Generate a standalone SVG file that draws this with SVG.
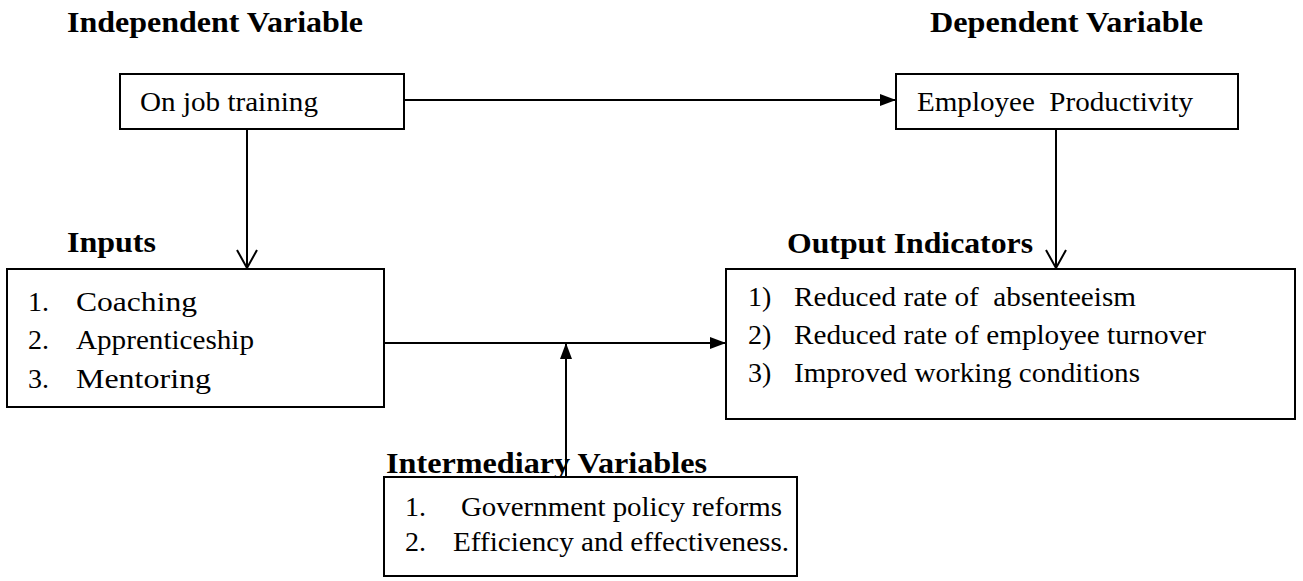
<svg xmlns="http://www.w3.org/2000/svg" width="1303" height="581" viewBox="0 0 1303 581">
<style>
text{font-family:"Liberation Serif","Times New Roman",serif;fill:#000;white-space:pre}
.t{font-size:29px;font-weight:bold}
.b{font-size:28px}
.box{fill:#fff;stroke:#000;stroke-width:2}
.ln{fill:none;stroke:#000;stroke-width:2}
</style>
<defs>
<marker id="fa" markerUnits="userSpaceOnUse" viewBox="0 0 16 12" refX="16" refY="6" markerWidth="16" markerHeight="12" orient="auto"><path d="M0,0 L16,6 L0,12 z" fill="#000"/></marker>
<marker id="oa" markerUnits="userSpaceOnUse" viewBox="0 0 20 22" refX="19" refY="11" markerWidth="20" markerHeight="22" orient="auto"><path d="M1,1 L19,11 L1,21" fill="none" stroke="#000" stroke-width="2"/></marker>
</defs>
<rect width="1303" height="581" fill="#fff"/>

<g id="connectors">
<path class="ln" d="M404,100 H896" marker-end="url(#fa)"/>
<path class="ln" d="M247,129 V268" marker-end="url(#oa)"/>
<path class="ln" d="M1056,129 V268" marker-end="url(#oa)"/>
<path class="ln" d="M384,343 H726" marker-end="url(#fa)"/>
</g>

<g id="title-independent"><text class="t" x="67" y="32" textLength="296" lengthAdjust="spacingAndGlyphs">Independent Variable</text></g>
<g id="title-dependent"><text class="t" x="930" y="32" textLength="273" lengthAdjust="spacingAndGlyphs">Dependent Variable</text></g>

<g id="node-training">
<rect class="box" x="120" y="74" width="284" height="55"/>
<text class="b" x="140" y="111" textLength="178" lengthAdjust="spacingAndGlyphs">On job training</text>
</g>

<g id="node-productivity">
<rect class="box" x="896" y="74" width="342" height="55"/>
<text class="b" x="917" y="111" textLength="276" lengthAdjust="spacingAndGlyphs">Employee  Productivity</text>
</g>

<g id="node-inputs">
<text class="t" x="67" y="252" textLength="89" lengthAdjust="spacingAndGlyphs">Inputs</text>
<rect class="box" x="7" y="269" width="377" height="138"/>
<text class="b" x="28" y="311">1.</text>
<text class="b" x="76" y="311" textLength="121" lengthAdjust="spacingAndGlyphs">Coaching</text>
<text class="b" x="28" y="349">2.</text>
<text class="b" x="76" y="349" textLength="178" lengthAdjust="spacingAndGlyphs">Apprenticeship</text>
<text class="b" x="28" y="388">3.</text>
<text class="b" x="76" y="388" textLength="135" lengthAdjust="spacingAndGlyphs">Mentoring</text>
</g>

<g id="node-outputs">
<text class="t" x="787" y="253" textLength="246" lengthAdjust="spacingAndGlyphs">Output Indicators</text>
<rect class="box" x="726" y="269" width="569" height="150"/>
<text class="b" x="748" y="306">1)</text>
<text class="b" x="794" y="306" textLength="342" lengthAdjust="spacingAndGlyphs">Reduced rate of  absenteeism</text>
<text class="b" x="748" y="344">2)</text>
<text class="b" x="794" y="344" textLength="412" lengthAdjust="spacingAndGlyphs">Reduced rate of employee turnover</text>
<text class="b" x="748" y="382">3)</text>
<text class="b" x="794" y="382" textLength="346" lengthAdjust="spacingAndGlyphs">Improved working conditions</text>
</g>

<g id="node-intermediary">
<text class="t" x="386" y="473" textLength="321" lengthAdjust="spacingAndGlyphs">Intermediary Variables</text>
<rect class="box" x="384" y="477" width="413" height="99"/>
<text class="b" x="405" y="516">1.</text>
<text class="b" x="461" y="516" textLength="321" lengthAdjust="spacingAndGlyphs">Government policy reforms</text>
<text class="b" x="405" y="551">2.</text>
<text class="b" x="453" y="551" textLength="336" lengthAdjust="spacingAndGlyphs">Efficiency and effectiveness.</text>
</g>

<g id="connectors-over">
<path class="ln" d="M566,477 V343" marker-end="url(#fa)"/>
</g>
</svg>
